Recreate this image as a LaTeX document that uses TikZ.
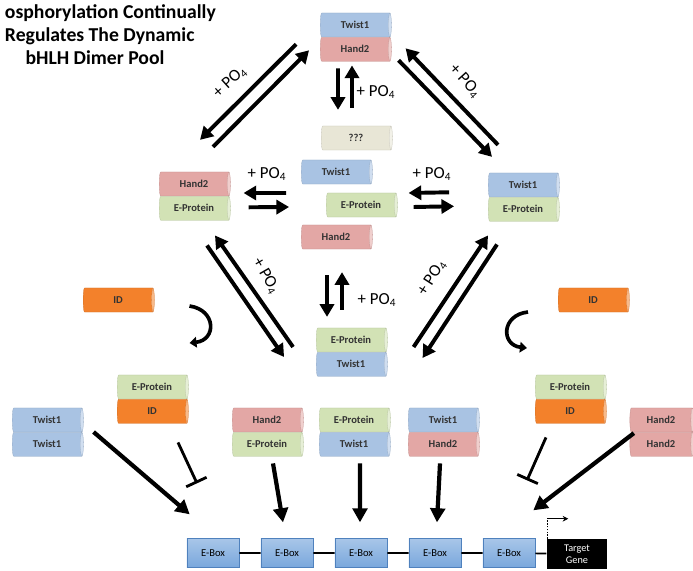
\documentclass[tikz,border=0pt]{standalone}
\usepackage{fontspec}
\setmainfont{Carlito}
\usepackage{xcolor}
\usetikzlibrary{arrows.meta,positioning,shapes.geometric}
\definecolor{twist}{HTML}{A9C3E3}
\definecolor{hand}{HTML}{E3A7A5}
\definecolor{eprot}{HTML}{D2E2B5}
\definecolor{idcol}{HTML}{F3812B}
\definecolor{unknown}{HTML}{E8E6D6}
\definecolor{ebox}{HTML}{79A7DC}
\definecolor{eboxline}{HTML}{4F81BD}

\tikzset{
  mono/.style={cylinder, aspect=0.4, minimum height=1.78cm, minimum width=0.6cm,
    inner sep=0pt, cylinder uses custom fill, draw=#1!85!black, line width=0.2pt,
    cylinder body fill=#1, cylinder end fill=#1!55!white,
    font=\fontsize{7.5}{8}\selectfont\bfseries, text=black!80},
  rev/.style={line width=2.8pt, -{Triangle[length=9pt,width=10pt]}},
  bind/.style={line width=3pt, -{Triangle[length=10pt,width=10.5pt]}},
  inh/.style={line width=2pt, -{Bar[width=16pt,line width=2pt]}},
  loop/.style={line width=2.6pt, -{Triangle[length=5pt,width=7.5pt]}},
  po/.style={font=\fontsize{12}{14}\selectfont},
  eboxn/.style={draw=eboxline, top color=ebox!65!white, bottom color=ebox,
    minimum width=1.3cm, minimum height=0.72cm, inner sep=0pt,
    font=\fontsize{7.5}{8}\selectfont},
  gene/.style={fill=black, text=white, minimum width=1.52cm, minimum height=0.75cm,
    inner sep=0pt, align=center, font=\fontsize{7.3}{8.6}\selectfont}
}

\begin{document}
\begin{tikzpicture}[x=0.025cm, y=-0.025cm]
\useasboundingbox (0,0) rectangle (693,571);
% ---------- title
\node[anchor=west, font=\fontsize{14}{16}\selectfont\bfseries] (title1) at (0,13) {osphorylation Continually};
\node[anchor=west, font=\fontsize{14}{16}\selectfont\bfseries] (title2) at (0,36) {Regulates The Dynamic};
\node[font=\fontsize{14}{16}\selectfont\bfseries] (title3) at (95,58) {bHLH Dimer Pool};

% ---------- top dimer and the unknown partner
\node[mono=twist] (tw0) at (355,25) {Twist1};
\node[mono=hand, below=0pt of tw0] (hd0) {Hand2};
\node[mono=unknown] (unk) at (356,138) {???};

% ---------- middle row
\node[mono=hand] (hdL) at (194,184) {Hand2};
\node[mono=eprot, below=0pt of hdL] (epL) {E-Protein};
\node[mono=twist] (twC) at (336,172) {Twist1};
\node[mono=eprot] (epC) at (361,205) {E-Protein};
\node[mono=hand] (hdC) at (336,237) {Hand2};
\node[mono=twist] (twR) at (523,185) {Twist1};
\node[mono=eprot, below=0pt of twR] (epR) {E-Protein};

% ---------- lower dimer and the ID proteins
\node[mono=eprot] (epB) at (351,340) {E-Protein};
\node[mono=twist, below=0pt of epB] (twB) {Twist1};
\node[mono=idcol] (idL) at (118,300) {ID};
\node[mono=idcol] (idR) at (593,300) {ID};

% ---------- dimers above the promoter
\node[mono=twist] (ttA) at (47,420) {Twist1};
\node[mono=twist, below=0pt of ttA] (ttB) {Twist1};
\node[mono=eprot] (eiA) at (152,387) {E-Protein};
\node[mono=idcol, below=0pt of eiA] (eiB) {ID};
\node[mono=hand] (heA) at (267,420) {Hand2};
\node[mono=eprot, below=0pt of heA] (heB) {E-Protein};
\node[mono=eprot] (etA) at (354,420) {E-Protein};
\node[mono=twist, below=0pt of etA] (etB) {Twist1};
\node[mono=twist] (thA) at (443,420) {Twist1};
\node[mono=hand, below=0pt of thA] (thB) {Hand2};
\node[mono=eprot] (erA) at (570,387) {E-Protein};
\node[mono=idcol, below=0pt of erA] (erB) {ID};
\node[mono=hand, minimum height=1.6cm] (hhA) at (661,420) {Hand2};
\node[mono=hand, minimum height=1.6cm, below=0pt of hhA] (hhB) {Hand2};

% ---------- promoter
\node[eboxn] (eb1) at (213,553) {E-Box};
\node[eboxn] (eb2) at (287,553) {E-Box};
\node[eboxn] (eb3) at (361,553) {E-Box};
\node[eboxn] (eb4) at (435,553) {E-Box};
\node[eboxn] (eb5) at (509,553) {E-Box};
\node[gene] (gene) at (577,554) {Target\\Gene};
\draw[line width=1.2pt] (eb1) -- (eb2) (eb2) -- (eb3) (eb3) -- (eb4) (eb4) -- (eb5) (eb5) -- (gene);
\draw[line width=1pt, densely dotted] ([shift={(1,0)}]gene.north west) -- ([shift={(1,-19)}]gene.north west);
\draw[line width=1pt, -{Stealth[length=4pt,width=4pt]}] ([shift={(1,-20)}]gene.north west) -- ([shift={(22,-20)}]gene.north west);

% ---------- phosphorylation exchanges
\draw[rev] ([shift={(-24,-5)}]hd0.west) -- ([shift={(6,-32)}]hdL.north);
\draw[rev] ([shift={(19,-25)}]hdL.north) -- ([shift={(-11,1)}]hd0.west);
\node[po, rotate=42] (po1) at (230,82) {+ PO\textsubscript{4}};

\draw[rev] ([shift={(-25,-28)}]twR.north) -- ([shift={(14,-1)}]hd0.east);
\draw[rev] ([shift={(7,11)}]hd0.east) -- ([shift={(-31,-16)}]twR.north);
\node[po, rotate=-48] (po2) at (465,81) {+ PO\textsubscript{4}};

\draw[rev] ([shift={(-17,7)}]hd0.south) -- ([shift={(-18,-16)}]unk.north);
\draw[rev] ([shift={(-4,-18)}]unk.north) -- ([shift={(-3,4)}]hd0.south);
\node[po] (po3) at (376,92) {+ PO\textsubscript{4}};

\draw[rev] ([shift={(-40,-12)}]epC.west) -- ([shift={(13,9)}]hdL.east);
\draw[rev] ([shift={(18,-1)}]epL.east) -- ([shift={(-37,2)}]epC.west);
\node[po] (po4) at (267,174) {+ PO\textsubscript{4}};

\draw[rev] ([shift={(-39,-17)}]epR.west) -- ([shift={(11,-12)}]epC.east);
\draw[rev] ([shift={(16,2)}]epC.east) -- ([shift={(-34,-3)}]epR.west);
\node[po] (po5) at (432,174) {+ PO\textsubscript{4}};

\draw[rev] ([shift={(-9,26)}]hdC.south) -- ([shift={(-24,-11)}]epB.north);
\draw[rev] ([shift={(-9,-18)}]epB.north) -- ([shift={(6,23)}]hdC.south);
\node[po] (po6) at (377,300) {+ PO\textsubscript{4}};

\draw[rev] ([shift={(-23,7)}]epB.west) -- ([shift={(21,15)}]epL.south);
\draw[rev] ([shift={(13,25)}]epL.south) -- ([shift={(-32,17)}]epB.west);
\node[po, rotate=-60] (po7) at (266,276) {+ PO\textsubscript{4}};

\draw[rev] ([shift={(26,7)}]epB.east) -- ([shift={(-35,14)}]epR.south);
\draw[rev] ([shift={(-26,23)}]epR.south) -- ([shift={(35,18)}]epB.east);
\node[po, rotate=57] (po8) at (432,278) {+ PO\textsubscript{4}};

% ---------- ID sequestering
\draw[loop] ([shift={(35,6)}]idL.east) .. controls ([shift={(62,10)}]idL.east) and ([shift={(62,40)}]idL.east) .. ([shift={(35,43)}]idL.east);
\draw[loop] ([shift={(-30,12)}]idR.west) .. controls ([shift={(-57,15)}]idR.west) and ([shift={(-57,45)}]idR.west) .. ([shift={(-31,48)}]idR.west);

% ---------- binding to the E-boxes
\draw[bind] ([shift={(10,12)}]ttA.east) -- ([shift={(3,-24)}]eb1.north west);
\draw[inh] ([shift={(26,19)}]eiB.south) -- ([shift={(-16,-55)}]eb1.north);
\draw[bind] ([shift={(6,7)}]heB.south) -- ([shift={(-4,-16)}]eb2.north);
\draw[bind] ([shift={(6,7)}]etB.south) -- ([shift={(-1,-16)}]eb3.north);
\draw[bind] ([shift={(-3,7)}]thB.south) -- ([shift={(2,-16)}]eb4.north);
\draw[inh] ([shift={(-24,14)}]erB.south) -- ([shift={(18,-58)}]eb5.north);
\draw[bind] ([shift={(-15,1)}]hhA.south west) -- ([shift={(-2,-28)}]eb5.north east);
\end{tikzpicture}
\end{document}
